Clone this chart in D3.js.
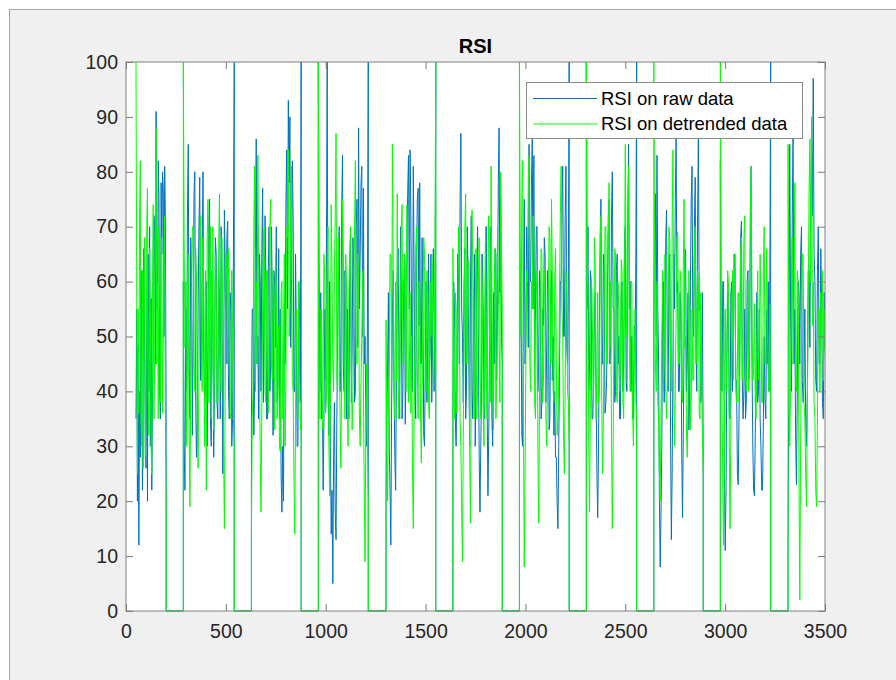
<!DOCTYPE html>
<html>
<head>
<meta charset="utf-8">
<script src="https://cdn.jsdelivr.net/npm/d3@7"></script>
<style>
  body { margin: 0; background: #fff; }
  text { font-family: "Liberation Sans", Arial, Helvetica, sans-serif; }
</style>
</head>
<body>
<svg id="chart" width="896" height="680"></svg>
<script>
// sample ranges (x) of each data block, the blocks are separated by flat zero runs
var segStart = [50, 287, 628, 963, 1302, 1637, 1970, 2305, 2643, 2976, 3315];
var segEnd   = [201, 542, 877, 1213, 1551, 1884, 2219, 2557, 2890, 3228, 3500];

// RSI on raw data, one list per block
var rawSegs = [
  [35, 55, 20, 48, 12, 40, 28, 62, 45, 22, 33, 66, 50, 30, 26, 58, 20, 65, 40, 70, 30, 57, 22, 40, 48, 72, 70, 45, 91, 55, 55, 82, 75, 40, 35, 78, 65, 80, 77, 50, 81, 70, 35],
  [60, 30, 22, 55, 40, 72, 85, 45, 35, 68, 62, 32, 50, 76, 80, 40, 28, 35, 55, 70, 79, 42, 45, 66, 80, 45, 38, 40, 60, 30, 48, 70, 75, 35, 30, 62, 52, 28, 40, 68, 65, 38, 35, 62, 58, 35, 70, 60, 25, 35, 73, 62, 45, 68, 71, 40, 35, 58, 55, 30, 35, 65, 100],
  [35, 55, 55, 32, 42, 66, 86, 45, 50, 35, 65, 60, 40, 66, 77, 38, 52, 72, 60, 35, 35, 62, 70, 40, 45, 70, 58, 32, 62, 60, 48, 70, 38, 42, 66, 35, 55, 25, 18, 30, 20, 56, 45, 74, 84, 55, 93, 78, 90, 48, 60, 82, 72, 40, 40, 65, 50, 30, 30, 60, 55, 38, 100],
  [100, 62, 40, 58, 35, 38, 22, 35, 55, 42, 62, 100, 45, 32, 60, 30, 14, 22, 5, 28, 38, 18, 13, 35, 50, 65, 70, 40, 45, 72, 83, 45, 40, 62, 60, 35, 55, 40, 35, 62, 68, 38, 48, 68, 62, 38, 40, 70, 75, 48, 88, 55, 65, 78, 81, 50, 77, 45, 50, 35, 30, 55, 100],
  [20, 35, 45, 58, 30, 22, 12, 38, 55, 62, 40, 28, 22, 45, 60, 66, 48, 35, 70, 58, 35, 40, 58, 65, 34, 45, 65, 76, 83, 55, 84, 72, 50, 40, 81, 62, 40, 35, 62, 75, 77, 52, 78, 45, 45, 68, 55, 32, 30, 45, 60, 38, 50, 65, 42, 48, 65, 38, 48, 66, 55, 40, 100],
  [40, 60, 55, 35, 30, 42, 65, 62, 45, 75, 87, 55, 50, 38, 60, 66, 35, 40, 70, 62, 45, 30, 58, 72, 40, 35, 52, 65, 30, 42, 62, 70, 48, 28, 18, 30, 40, 65, 55, 38, 35, 66, 70, 38, 21, 32, 50, 70, 60, 35, 30, 58, 45, 66, 65, 42, 55, 78, 88, 58, 75, 50, 45],
  [40, 62, 55, 32, 30, 58, 75, 45, 50, 70, 65, 48, 85, 60, 60, 78, 86, 55, 83, 45, 55, 70, 70, 40, 45, 62, 60, 35, 38, 55, 52, 68, 65, 38, 48, 62, 58, 33, 35, 58, 62, 42, 50, 32, 40, 28, 28, 20, 15, 30, 45, 60, 60, 75, 81, 50, 50, 72, 81, 48, 45, 62, 100],
  [100, 55, 70, 40, 45, 62, 60, 35, 35, 42, 55, 58, 40, 25, 17, 30, 50, 68, 75, 45, 45, 65, 62, 36, 38, 42, 58, 72, 75, 45, 48, 72, 80, 55, 55, 38, 40, 62, 65, 45, 50, 35, 35, 58, 60, 40, 45, 68, 70, 42, 40, 70, 85, 55, 60, 40, 50, 35, 35, 52, 45, 65, 100],
  [55, 70, 76, 50, 83, 55, 45, 20, 8, 18, 30, 55, 60, 38, 50, 68, 73, 45, 40, 62, 65, 32, 13, 25, 45, 65, 55, 75, 86, 58, 60, 40, 40, 58, 55, 30, 17, 32, 50, 66, 65, 40, 45, 58, 33, 40, 60, 75, 81, 52, 50, 70, 79, 48, 40, 72, 87, 55, 55, 38, 40, 58, 30],
  [82, 50, 40, 60, 60, 25, 11, 22, 45, 58, 55, 36, 35, 58, 60, 40, 48, 65, 65, 42, 42, 25, 23, 35, 50, 68, 71, 42, 35, 40, 55, 35, 38, 60, 62, 42, 45, 72, 81, 45, 30, 22, 21, 32, 45, 58, 38, 40, 55, 35, 30, 22, 22, 35, 50, 38, 35, 55, 45, 60, 40, 62, 100],
  [12, 45, 85, 55, 40, 72, 87, 45, 55, 32, 23, 40, 60, 58, 45, 65, 70, 42, 38, 42, 55, 35, 30, 40, 62, 62, 48, 75, 85, 72, 97, 65, 60, 42, 40, 62, 70, 45, 45, 66, 55, 38, 35, 58, 48]
];

// RSI on detrended data
var detSegs = [
  [100, 60, 25, 55, 36, 70, 82, 35, 30, 62, 26, 55, 68, 28, 40, 70, 77, 40, 32, 66, 55, 30, 25, 60, 74, 35, 45, 72, 88, 45, 60, 35, 70, 60, 38, 68, 65, 36, 50, 66, 72, 35, 20],
  [100, 68, 48, 60, 30, 45, 65, 35, 19, 40, 55, 70, 70, 45, 40, 66, 62, 35, 26, 42, 58, 72, 45, 40, 68, 55, 30, 62, 22, 68, 75, 38, 50, 70, 35, 45, 70, 33, 48, 65, 60, 38, 38, 66, 76, 45, 40, 68, 55, 30, 15, 40, 65, 60, 45, 66, 60, 36, 35, 62, 50, 35, 30],
  [14, 35, 40, 70, 81, 40, 60, 45, 83, 62, 45, 28, 18, 38, 55, 68, 70, 40, 38, 62, 62, 36, 50, 70, 75, 45, 42, 62, 58, 33, 65, 60, 35, 40, 52, 30, 29, 58, 60, 35, 45, 65, 30, 42, 70, 68, 84, 50, 55, 72, 81, 42, 40, 25, 14, 35, 55, 40, 35, 60, 45, 33, 35],
  [100, 45, 35, 55, 55, 33, 45, 65, 60, 36, 38, 62, 70, 32, 21, 42, 74, 62, 45, 40, 62, 72, 87, 42, 40, 68, 55, 35, 26, 45, 75, 64, 48, 35, 65, 60, 38, 30, 58, 66, 70, 45, 33, 40, 55, 70, 82, 45, 45, 65, 60, 35, 30, 42, 50, 62, 40, 22, 9, 35, 45, 30, 20],
  [53, 30, 20, 38, 45, 65, 65, 42, 85, 62, 40, 35, 60, 42, 76, 45, 35, 42, 55, 70, 74, 45, 45, 65, 62, 40, 74, 62, 38, 42, 58, 36, 50, 25, 15, 35, 48, 66, 70, 45, 35, 60, 60, 36, 27, 40, 55, 68, 65, 40, 40, 62, 58, 38, 35, 60, 50, 65, 62, 40, 45, 66, 100],
  [66, 40, 35, 58, 55, 36, 48, 70, 60, 35, 30, 18, 9, 32, 50, 70, 76, 45, 45, 64, 62, 30, 16, 40, 73, 62, 40, 35, 55, 66, 35, 40, 60, 68, 45, 35, 65, 58, 38, 30, 55, 70, 42, 35, 62, 72, 50, 38, 81, 58, 40, 33, 58, 66, 35, 42, 70, 60, 50, 38, 80, 66, 55],
  [100, 68, 50, 75, 82, 35, 8, 25, 45, 62, 60, 78, 83, 45, 40, 60, 55, 72, 70, 38, 35, 58, 62, 30, 16, 38, 50, 66, 65, 38, 42, 62, 58, 35, 30, 42, 55, 70, 68, 45, 75, 62, 40, 38, 60, 66, 45, 32, 35, 42, 58, 72, 81, 55, 50, 32, 25, 40, 62, 58, 40, 38, 30],
  [100, 68, 55, 30, 18, 40, 60, 58, 45, 38, 68, 62, 35, 42, 58, 38, 40, 62, 72, 38, 25, 35, 55, 70, 70, 45, 45, 68, 78, 48, 60, 32, 15, 30, 50, 66, 65, 40, 38, 60, 55, 40, 45, 64, 62, 38, 35, 60, 85, 55, 50, 72, 81, 48, 40, 60, 60, 36, 30, 42, 55, 38, 35],
  [100, 62, 45, 40, 60, 38, 35, 25, 20, 36, 50, 62, 40, 45, 65, 40, 35, 42, 58, 70, 68, 45, 40, 70, 84, 42, 30, 40, 55, 68, 69, 45, 45, 62, 60, 40, 38, 62, 75, 48, 50, 33, 28, 40, 62, 55, 33, 38, 55, 42, 42, 65, 70, 45, 48, 62, 60, 36, 35, 58, 45, 32, 25],
  [100, 62, 40, 22, 12, 32, 55, 40, 48, 62, 60, 30, 15, 35, 50, 62, 42, 65, 65, 40, 38, 45, 58, 38, 44, 66, 68, 42, 45, 68, 72, 45, 40, 45, 60, 40, 50, 72, 81, 52, 42, 44, 56, 38, 35, 45, 62, 42, 48, 65, 55, 38, 38, 62, 70, 45, 45, 66, 55, 40, 40, 56, 30],
  [85, 45, 30, 40, 55, 68, 45, 55, 78, 42, 40, 62, 60, 25, 2, 30, 50, 65, 65, 38, 35, 25, 19, 38, 55, 76, 86, 60, 90, 52, 60, 38, 35, 22, 19, 35, 55, 55, 40, 58, 50, 62, 42, 55, 47]
];

var xTicks = [0, 500, 1000, 1500, 2000, 2500, 3000, 3500];
var yTicks = [0, 10, 20, 30, 40, 50, 60, 70, 80, 90, 100];
var seriesNames = ["RSI on raw data", "RSI on detrended data"];
var seriesColors = ["#0072bd", "#00ff00"];

var width = 896, height = 680;
var margin = {top: 62, right: 71, bottom: 69, left: 126};

// turn the blocks into x/y points, zero runs in between
function buildSeries(segs) {
	var pts = [];
	segs.forEach(function(vals, k) {
		var step = (segEnd[k] - segStart[k]) / (vals.length - 1);
		vals.forEach(function(v, i) {
			pts.push({x: segStart[k] + i * step, y: v});
		});
		if (k < segs.length - 1) {
			pts.push({x: segEnd[k], y: 0});
			pts.push({x: segStart[k + 1], y: 0});
		}
	});
	return pts;
}

var svg = d3.select("#chart");

// figure window background
svg.append("rect").attr("width", width).attr("height", height).attr("fill", "#fff");
svg.append("rect").attr("x", 9).attr("y", 9).attr("width", width - 9).attr("height", height - 9).attr("fill", "#f0f0f0");
svg.append("line").attr("x1", 9).attr("x2", width).attr("y1", 9.5).attr("y2", 9.5).attr("stroke", "#a8a8a8");
svg.append("line").attr("x1", 9.5).attr("x2", 9.5).attr("y1", 9).attr("y2", height).attr("stroke", "#7aaee0");

x = d3.scaleLinear()
	.domain([0, 3500])
	.range([margin.left, width - margin.right]);

y = d3.scaleLinear()
	.domain([0, 100])
	.range([height - margin.bottom, margin.top]);

svg.append("rect")
	.attr("x", x(0)).attr("y", y(100))
	.attr("width", x(3500) - x(0)).attr("height", y(0) - y(100))
	.attr("fill", "#fff");

svg.append("clipPath").attr("id", "clip")
	.append("rect")
	.attr("x", x(0)).attr("y", y(100) - 1)
	.attr("width", x(3500) - x(0)).attr("height", y(0) - y(100) + 2);

var line = d3.line().x(d => x(d.x)).y(d => y(d.y));

var plot = svg.append("g").attr("clip-path", "url(#clip)");
[rawSegs, detSegs].forEach(function(segs, i) {
	plot.append("path")
		.datum(buildSeries(segs))
		.attr("fill", "none")
		.attr("stroke", seriesColors[i])
		.attr("stroke-width", 1)
		.attr("stroke-linejoin", "miter")
		.attr("d", line);
});

// axes, ticks pointing inward like matlab
function styleAxis(g) {
	g.selectAll("line").attr("stroke", "#777");
	g.selectAll("text").attr("fill", "#262626").style("font-size", "19.5px");
	g.select(".domain").remove();
}

svg.append("g")
	.attr("transform", `translate(0,${y(0)})`)
	.call(d3.axisBottom(x).tickValues(xTicks).tickSize(-7).tickPadding(13).tickFormat(d3.format("d")))
	.call(styleAxis);
svg.append("g")
	.attr("transform", `translate(0,${y(100)})`)
	.call(d3.axisTop(x).tickValues(xTicks).tickSize(-7).tickFormat(""))
	.call(styleAxis);
svg.append("g")
	.attr("transform", `translate(${x(0)},0)`)
	.call(d3.axisLeft(y).tickValues(yTicks).tickSize(-7).tickPadding(8))
	.call(styleAxis);
svg.append("g")
	.attr("transform", `translate(${x(3500)},0)`)
	.call(d3.axisRight(y).tickValues(yTicks).tickSize(-7).tickFormat(""))
	.call(styleAxis);

svg.append("rect")
	.attr("x", x(0)).attr("y", y(100))
	.attr("width", x(3500) - x(0)).attr("height", y(0) - y(100))
	.attr("fill", "none")
	.attr("stroke", "#808080")
	.attr("stroke-width", 1);

svg.append("text")
	.attr("x", (x(0) + x(3500)) / 2)
	.attr("y", 53)
	.attr("text-anchor", "middle")
	.style("font-size", "20px")
	.style("font-weight", "bold")
	.attr("fill", "#000")
	.text("RSI");

// legend
var lg = svg.append("g");
lg.append("rect")
	.attr("x", 526.5).attr("y", 82.5)
	.attr("width", 276).attr("height", 56)
	.attr("fill", "#fff")
	.attr("stroke", "#8a8a8a");
seriesNames.forEach(function(name, i) {
	var ly = 98.5 + i * 25.5;
	lg.append("line")
		.attr("x1", 533).attr("x2", 597)
		.attr("y1", ly).attr("y2", ly)
		.attr("stroke", seriesColors[i]);
	lg.append("text")
		.attr("x", 601).attr("y", ly)
		.attr("dy", "0.35em")
		.style("font-size", "18.5px")
		.attr("fill", "#000")
		.text(name);
});
</script>
</body>
</html>
